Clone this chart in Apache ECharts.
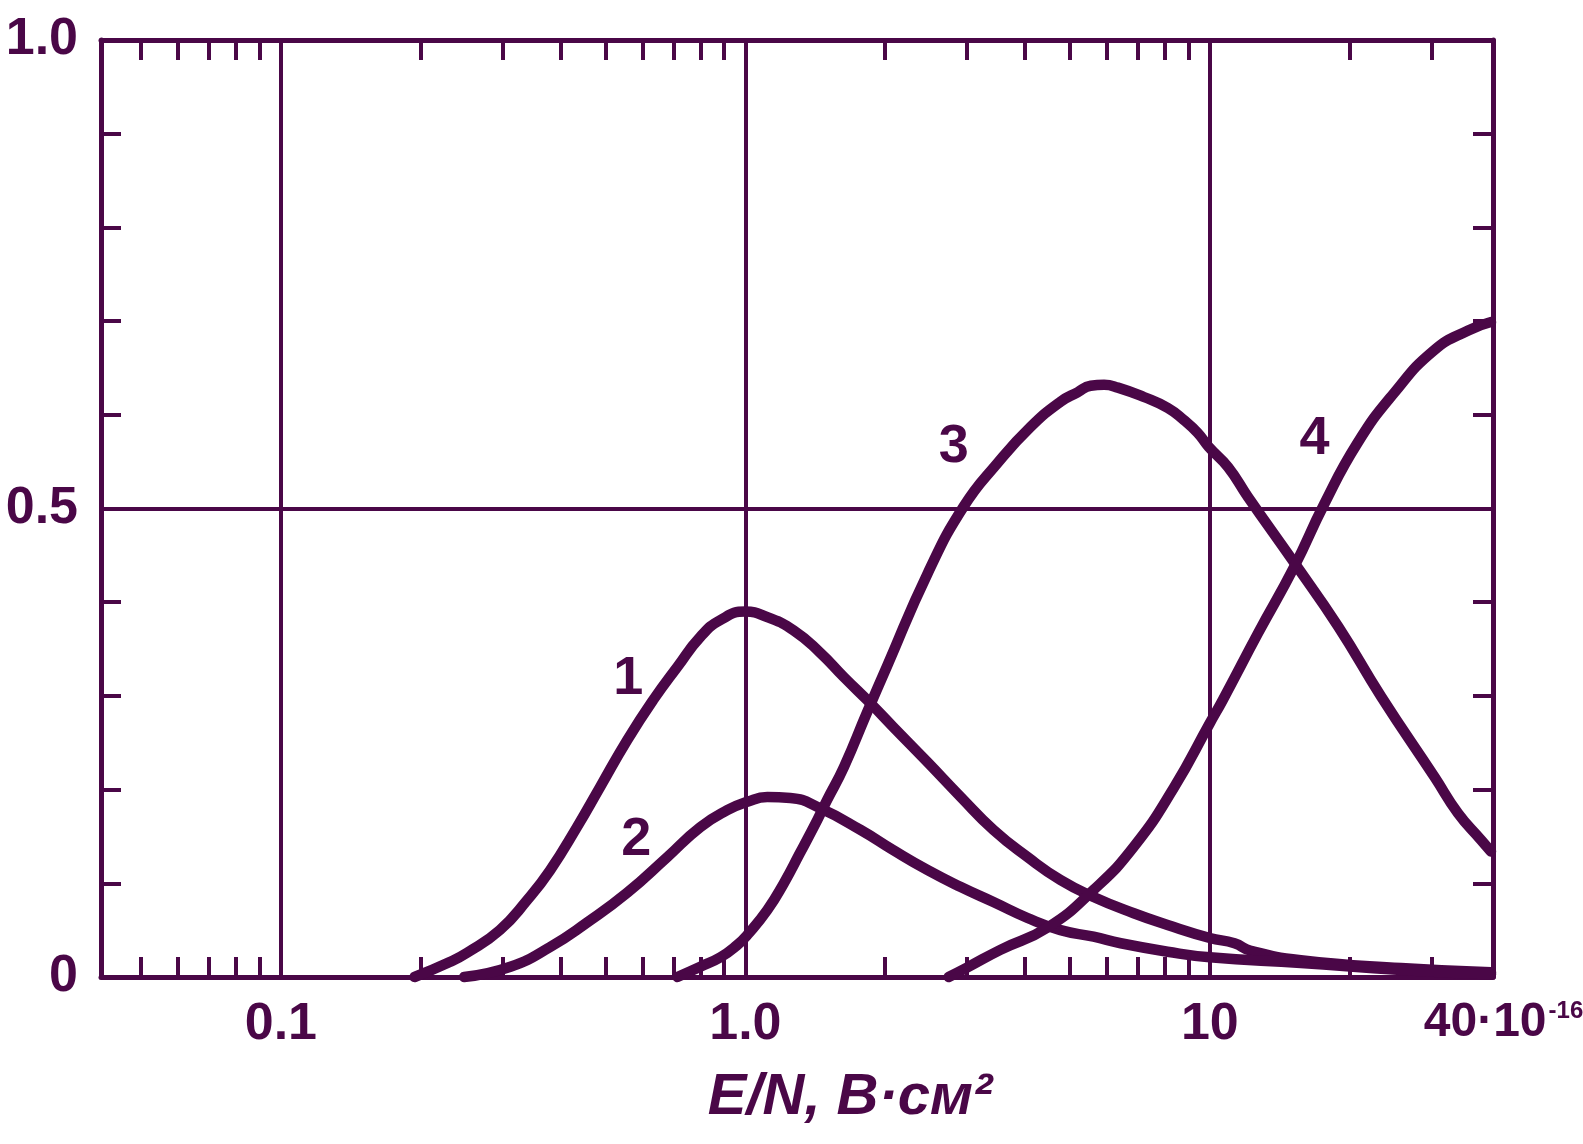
<!DOCTYPE html>
<html>
<head>
<meta charset="utf-8">
<title>E/N</title>
<script src="https://cdn.jsdelivr.net/npm/echarts@6/dist/echarts.min.js"></script>
<style>
  html, body { margin: 0; padding: 0; background: #ffffff; }
  #chart { width: 1583px; height: 1144px; }
</style>
</head>
<body>
<div id="chart"></div>
<script>
// Curves 1–4 as functions of E/N (units of 1e-16 В·см²)
const curve1X = [0.194, 0.231, 0.252, 0.296, 0.339, 0.38, 0.434, 0.487, 0.557, 0.634, 0.714, 0.80, 0.884, 1.0, 1.115, 1.27, 1.45, 1.63, 1.86, 2.08, 2.47, 2.91, 3.42, 4.05, 4.77, 5.62, 6.86, 8.11, 10, 11.3, 12.25, 15.7, 25.8, 40.3];
const curve1Y = [0, 0.016, 0.026, 0.05, 0.082, 0.114, 0.16, 0.203, 0.253, 0.296, 0.331, 0.363, 0.381, 0.39, 0.384, 0.37, 0.346, 0.32, 0.292, 0.267, 0.229, 0.192, 0.157, 0.128, 0.1035, 0.0854, 0.068, 0.0555, 0.0416, 0.036, 0.028, 0.018, 0.0096, 0.005];

const curve2X = [0.248, 0.312, 0.38, 0.456, 0.557, 0.679, 0.80, 0.914, 1.01, 1.115, 1.25, 1.45, 1.77, 2.08, 2.47, 2.91, 3.42, 4.05, 4.77, 5.62, 6.43, 8.11, 10, 15.7, 25.8, 40.3];
const curve2Y = [0, 0.011, 0.032, 0.058, 0.09, 0.128, 0.16, 0.178, 0.187, 0.192, 0.191, 0.18, 0.157, 0.1355, 0.114, 0.096, 0.08, 0.063, 0.05, 0.043, 0.036, 0.027, 0.021, 0.015, 0.0075, 0.003];

const curve3X = [0.714, 0.80, 0.884, 0.96, 1.01, 1.115, 1.21, 1.31, 1.43, 1.5, 1.63, 1.83, 2.02, 2.47, 2.95, 3.49, 4.11, 4.77, 5.19, 5.54, 5.92, 6.34, 7.21, 8.12, 8.79, 9.42, 9.95, 10.94, 12.08, 15.2, 18.9, 23.4, 30.5, 34.2, 38.4, 40.3];
const curve3Y = [0, 0.011, 0.021, 0.034, 0.045, 0.0715, 0.1, 0.132, 0.168, 0.189, 0.224, 0.283, 0.332, 0.431, 0.502, 0.5485, 0.587, 0.614, 0.624, 0.631, 0.632, 0.629, 0.619, 0.6073, 0.5944, 0.5806, 0.5656, 0.5443, 0.5123, 0.442, 0.374, 0.299, 0.213, 0.175, 0.146, 0.134];

const curve4X = [2.74, 3.0, 3.54, 4.48, 5.62, 6.86, 8.36, 10, 10.67, 12.7, 15.2, 17.6, 20.8, 24.9, 30.4, 36.0, 40.3];
const curve4Y = [0, 0.01, 0.029, 0.053, 0.093, 0.139, 0.2017, 0.271, 0.296, 0.367, 0.438, 0.504, 0.57, 0.623, 0.669, 0.69, 0.699];

// Curve numbers and where they sit
const curveNames = ['1', '2', '3', '4'];
const curveNameX = [0.56, 0.582, 2.81, 16.8];
const curveNameY = [0.318, 0.146, 0.566, 0.574];

// Axes
const X_MIN = 0.041;
const X_MAX = 40.7;
const xMinorTicks = [0.05, 0.06, 0.07, 0.08, 0.09, 0.2, 0.3, 0.4, 0.5, 0.6, 0.7, 0.8, 0.9, 2, 3, 4, 5, 6, 7, 8, 9, 20, 30];
const xGridValues = [0.1, 1, 10];
const xLabelValues = [0.1, 1, 10, 40];
const xLabelTexts = ['0.1', '1.0', '10', '40·10'];
const xLabelExp = '-16';
const yTicks = [0.1, 0.2, 0.3, 0.4, 0.6, 0.7, 0.8, 0.9];
const yGridValues = [0.5];
const yLabelValues = [0, 0.5, 1];
const yLabelTexts = ['0', '0.5', '1.0'];
const xTitle = 'E/N, В·см²';

const INK = '#4a0747';
const FONT = '"Liberation Sans", "DejaVu Sans Condensed", sans-serif';

function nearestIndex(list, v) {
  let best = 0;
  for (let i = 1; i < list.length; i++) {
    if (Math.abs(Math.log(list[i] / v)) < Math.abs(Math.log(list[best] / v))) best = i;
  }
  return best;
}

function zip(xs, ys) { return xs.map((x, i) => [x, ys[i]]); }

const frameLine = { show: true, onZero: false, lineStyle: { color: INK, width: 5 } };
const tickStyle = { color: INK, width: 4 };

function curveSeries(name, xs, ys) {
  return {
    name: name,
    type: 'line',
    xAxisIndex: 0,
    yAxisIndex: 0,
    data: zip(xs, ys),
    smooth: 0.5,
    showSymbol: false,
    clip: false,
    lineStyle: { color: INK, width: 10.5, cap: 'round', join: 'round' },
    z: 5
  };
}

const chart = echarts.init(document.getElementById('chart'), null, { renderer: 'canvas' });

const option = {
  animation: false,
  backgroundColor: '#ffffff',
  grid: { left: 101, right: 90, top: 40, bottom: 167, containLabel: false, outerBoundsMode: 'none' },
  xAxis: [
    {
      type: 'log', min: X_MIN, max: X_MAX, position: 'bottom',
      axisLine: frameLine,
      axisTick: { show: true, inside: true, length: 20, lineStyle: tickStyle, customValues: xMinorTicks },
      axisLabel: {
        show: true,
        customValues: xLabelValues,
        margin: 22,
        color: INK,
        fontFamily: FONT,
        fontWeight: 'bold',
        fontSize: 52,
        formatter: function (v) {
          const i = nearestIndex(xLabelValues, v);
          if (i === xLabelValues.length - 1) {
            return '{last|' + xLabelTexts[i] + '}{exp|' + xLabelExp + '}';
          }
          return xLabelTexts[i];
        },
        rich: {
          last: { color: INK, fontFamily: FONT, fontWeight: 'bold', fontSize: 48, padding: [0, 0, 0, 28] },
          exp: { color: INK, fontFamily: FONT, fontWeight: 'bold', fontSize: 24, verticalAlign: 'top', padding: [0, 0, 22, 2] }
        }
      },
      splitLine: { show: false },
      name: xTitle,
      nameLocation: 'middle',
      nameGap: 92,
      nameTextStyle: {
        color: INK, fontFamily: FONT, fontWeight: 'bold', fontStyle: 'italic', fontSize: 58,
        padding: [0, 0, 0, 106]
      }
    },
    {
      type: 'log', min: X_MIN, max: X_MAX, position: 'top',
      axisLine: frameLine,
      axisTick: { show: true, inside: true, length: 20, lineStyle: tickStyle, customValues: xMinorTicks },
      axisLabel: { show: false },
      splitLine: { show: false }
    },
    {
      type: 'log', min: X_MIN, max: X_MAX, position: 'bottom',
      axisLine: { show: false },
      axisTick: { show: false, customValues: xGridValues },
      axisLabel: { show: false },
      splitLine: { show: true, lineStyle: { color: INK, width: 4 } }
    }
  ],
  yAxis: [
    {
      type: 'value', min: 0, max: 1, interval: 0.5, position: 'left',
      axisLine: frameLine,
      axisTick: { show: true, inside: true, length: 20, lineStyle: tickStyle, customValues: yTicks },
      axisLabel: {
        show: true,
        customValues: yLabelValues,
        margin: 23,
        color: INK,
        fontFamily: FONT,
        fontWeight: 'bold',
        fontSize: 52,
        formatter: function (v) {
          let best = 0;
          yLabelValues.forEach((t, i) => { if (Math.abs(t - v) < Math.abs(yLabelValues[best] - v)) best = i; });
          return yLabelTexts[best];
        }
      },
      splitLine: { show: false }
    },
    {
      type: 'value', min: 0, max: 1, interval: 0.5, position: 'right',
      axisLine: frameLine,
      axisTick: { show: true, inside: true, length: 20, lineStyle: tickStyle, customValues: yTicks },
      axisLabel: { show: false },
      splitLine: { show: false }
    },
    {
      type: 'value', min: 0, max: 1, interval: 0.5, position: 'left',
      axisLine: { show: false },
      axisTick: { show: false, customValues: yGridValues },
      axisLabel: { show: false },
      splitLine: { show: true, lineStyle: { color: INK, width: 4 } }
    }
  ],
  series: [
    curveSeries('1', curve1X, curve1Y),
    curveSeries('2', curve2X, curve2Y),
    curveSeries('3', curve3X, curve3Y),
    curveSeries('4', curve4X, curve4Y),
    {
      name: 'numbers',
      type: 'scatter',
      xAxisIndex: 0,
      yAxisIndex: 0,
      symbolSize: 1,
      itemStyle: { color: 'rgba(0,0,0,0)', opacity: 1 },
      data: curveNames.map((n, i) => ({ value: [curveNameX[i], curveNameY[i]], name: n })),
      label: {
        show: true,
        position: 'inside',
        formatter: '{b}',
        color: INK,
        opacity: 1,
        textBorderWidth: 0,
        fontFamily: FONT,
        fontWeight: 'bold',
        fontSize: 54
      },
      z: 6
    }
  ]
};

chart.setOption(option);
</script>
</body>
</html>
